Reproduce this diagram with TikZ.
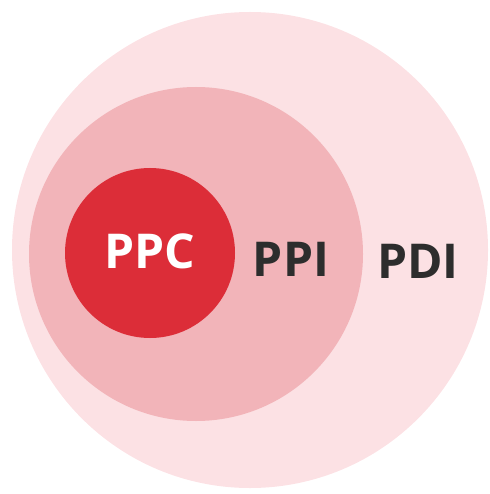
\documentclass[tikz,border=0pt]{standalone}
\usepackage{fontspec}
\setmainfont{Open Sans}
\usepackage{xcolor}
\usepackage{tikz}
\usetikzlibrary{positioning}

\definecolor{pdipink}{RGB}{252,225,228}
\definecolor{ppipink}{RGB}{242,180,185}
\definecolor{ppcred}{RGB}{220,45,56}
\definecolor{labeldark}{RGB}{45,45,45}

\begin{document}
\begin{tikzpicture}[x=1pt,y=-1pt,
  ring/.style={circle,inner sep=0pt,draw=none},
  tag/.style={font=\fontsize{48}{52}\selectfont\bfseries,inner sep=0pt,text=labeldark}]

\useasboundingbox (0,0) rectangle (489,494);
\node(PDIC)  [ring,fill=pdipink,minimum size=476] at (250,250) {};
\node(PPIC)  [ring,fill=ppipink,minimum size=334] at (196,254) {};
\node(PPCC)  [ring,fill=ppcred,minimum size=170]  at (150,253) {};
\node(PPC)   [tag,text=white] at (150,251)       {PPC};
\node(PPI)   [tag] at (291,259)                  {PPI};
\node(PDI)   [tag] at (418,261)                  {PDI};
\end{tikzpicture}
\end{document}
